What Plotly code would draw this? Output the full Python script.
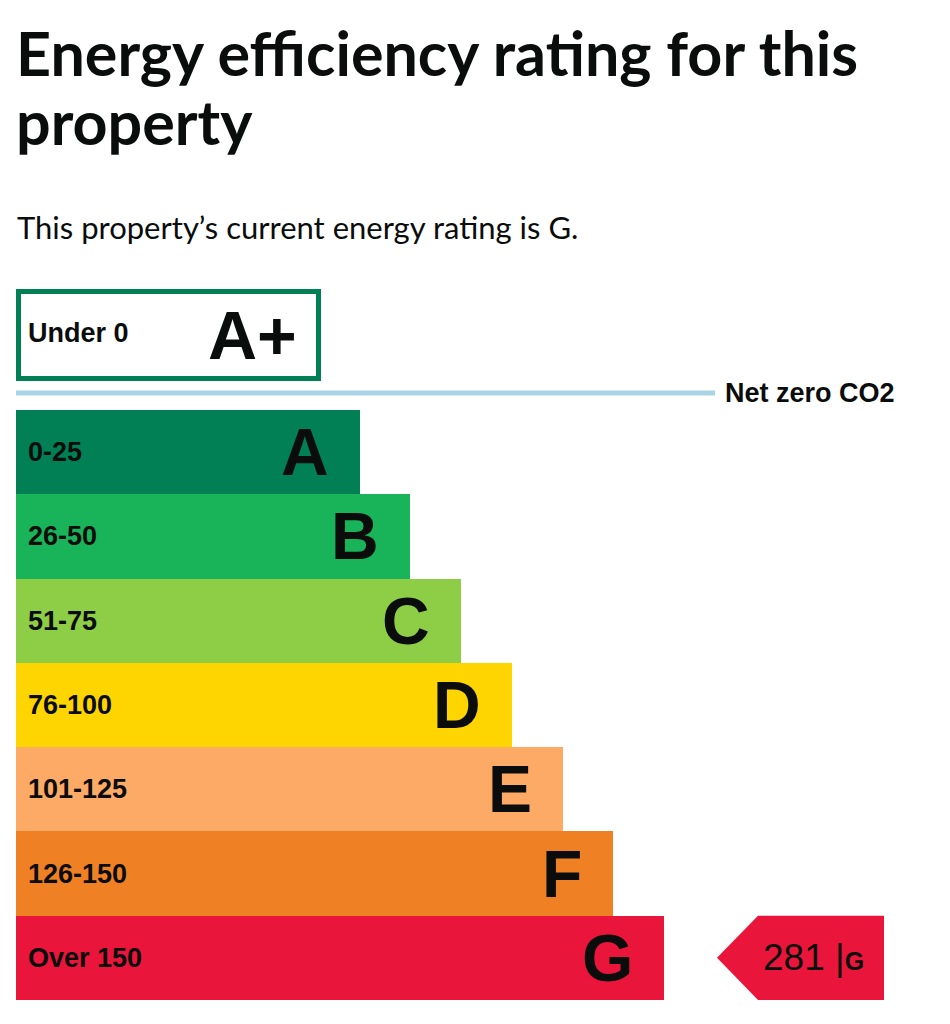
import plotly.graph_objects as go

# ---- data ----
bands = ["A", "B", "C", "D", "E", "F", "G"]
score_ranges = ["0-25", "26-50", "51-75", "76-100", "101-125", "126-150", "Over 150"]
bar_lengths = [344, 394, 445, 496, 547, 597, 648]
band_colors = ["#008054", "#19b459", "#8dce46", "#ffd500", "#fcaa65", "#ef8023", "#e9153b"]
top_band = "A+"
top_range = "Under 0"
current_score = 281
current_band = "G"
title_lines = ["Energy efficiency rating for this", "property"]
subtitle = "This property\u2019s current energy rating is G."
net_zero_label = "Net zero CO2"

W, H = 950, 1024
TXT = "#0b0c0c"
BAR_FONT = "Liberation Sans, Arial, sans-serif"
HEAD_FONT = "Lato, sans-serif"


def py(p):
    return 1 - p / H


idx = list(range(len(bands)))
fig = go.Figure()
fig.add_trace(go.Bar(
    x=bar_lengths, y=idx, orientation="h", width=1,
    marker=dict(color=band_colors, line=dict(width=0)),
    hoverinfo="skip", showlegend=False,
))

# current rating arrow
ci = bands.index(current_band)
fig.add_trace(go.Scatter(
    x=[701, 742, 868, 868, 742, 701],
    y=[ci, ci - 0.5, ci - 0.5, ci + 0.5, ci + 0.5, ci],
    mode="lines", fill="toself", fillcolor=band_colors[ci],
    line=dict(width=0, color=band_colors[ci]),
    hoverinfo="skip", showlegend=False,
))

ann = []
for i, (b, r, L) in enumerate(zip(bands, score_ranges, bar_lengths)):
    ann.append(dict(x=10, y=i, xref="x", yref="y", text=f"<b>{r}</b>", showarrow=False,
                    xanchor="left", yanchor="middle",
                    font=dict(family=BAR_FONT, size=27, color=TXT)))
    ann.append(dict(x=L - 29, y=i, xref="x", yref="y", text=f"<b>{b}</b>", showarrow=False,
                    xanchor="right", yanchor="middle",
                    font=dict(family=BAR_FONT, size=66, color=TXT)))

ann.append(dict(x=797, y=ci, xref="x", yref="y",
                text=f"{current_score} |<b><span style='font-size:25px'>{current_band}</span></b>",
                showarrow=False, xanchor="center", yanchor="middle",
                font=dict(family=BAR_FONT, size=37, color=TXT)))

# A+ box
ann.append(dict(x=10, y=py(333), xref="x", yref="paper", text=f"<b>{top_range}</b>", showarrow=False,
                xanchor="left", yanchor="middle", font=dict(family=BAR_FONT, size=27, color=TXT)))
ann.append(dict(x=283, y=py(335), xref="x", yref="paper", text=f"<b>{top_band}</b>", showarrow=False,
                xanchor="right", yanchor="middle", font=dict(family=BAR_FONT, size=68, color=TXT)))
ann.append(dict(x=707, y=py(393), xref="x", yref="paper", text=f"<b>{net_zero_label}</b>", showarrow=False,
                xanchor="left", yanchor="middle", font=dict(family=BAR_FONT, size=27, color=TXT)))

# headings
ann.append(dict(x=14 / W, y=py(52), xref="paper", yref="paper", text=f"<b>{title_lines[0]}</b>",
                showarrow=False, xanchor="left", yanchor="middle",
                font=dict(family=HEAD_FONT, size=61, color=TXT)))
ann.append(dict(x=14 / W, y=py(121), xref="paper", yref="paper", text=f"<b>{title_lines[1]}</b>",
                showarrow=False, xanchor="left", yanchor="middle",
                font=dict(family=HEAD_FONT, size=61, color=TXT)))
ann.append(dict(x=15 / W, y=py(227), xref="paper", yref="paper", text=subtitle,
                showarrow=False, xanchor="left", yanchor="middle",
                font=dict(family=HEAD_FONT, size=31, color=TXT)))

shapes = [
    dict(type="rect", xref="x", yref="paper", x0=2.5, x1=302.5, y0=py(291.5), y1=py(378.5),
         line=dict(color="#008054", width=5), fillcolor="rgba(0,0,0,0)"),
    dict(type="line", xref="x", yref="paper", x0=0, x1=699, y0=py(393), y1=py(393),
         line=dict(color="#a9d4e6", width=5)),
]

fig.update_layout(
    width=W, height=H, margin=dict(l=0, r=0, t=0, b=0),
    paper_bgcolor="white", plot_bgcolor="white",
    xaxis=dict(range=[-16, W - 16], domain=[0, 1], visible=False, fixedrange=True),
    yaxis=dict(range=[6.5, -0.5], domain=[py(1000), py(410)], visible=False, fixedrange=True),
    bargap=0, annotations=ann, shapes=shapes, showlegend=False,
)

fig.write_html("out.html", config={"displayModeBar": False})
